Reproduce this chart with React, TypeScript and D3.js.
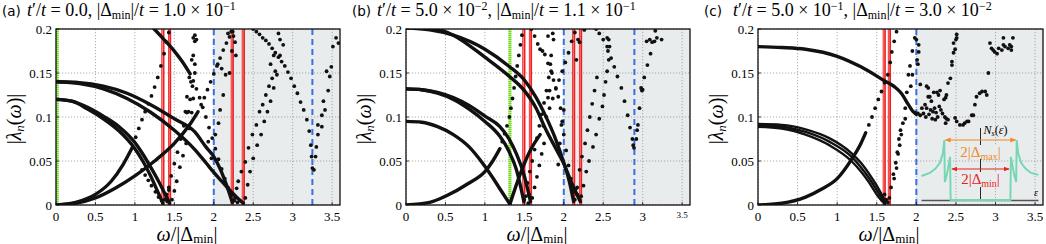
import React from "react";
import * as d3 from "d3";

type Pt = [number, number];

const FONT = "'Liberation Serif', 'DejaVu Serif', serif";

// axes
const xTicks = [0, 0.5, 1, 1.5, 2, 2.5, 3, 3.5];
const xTickLabels = ["0", "0.5", "1", "1.5", "2", "2.5", "3", "3.5"];
const yTicks = [0, 0.05, 0.1, 0.15, 0.2];
const yTickLabels = ["0", "0.05", "0.1", "0.15", "0.2"];

// ---------- panel (a) ----------
const aHi1: Pt[] = [[0, 0.14], [0.3, 0.139], [0.6, 0.135], [0.9, 0.127], [1.2, 0.114], [1.5, 0.098], [1.76, 0.083], [1.9, 0.066], [2.0, 0.055], [2.1, 0.037], [2.18, 0.018], [2.235, 0.003]];
const aHi2: Pt[] = [[0, 0.14], [0.3, 0.138], [0.6, 0.132], [0.9, 0.121], [1.19, 0.106], [1.5, 0.085], [1.76, 0.063], [1.9, 0.048], [2.0, 0.037], [2.1, 0.027], [2.2, 0.017], [2.3, 0.008], [2.375, 0.002]];
const aLo1: Pt[] = [[0, 0.12], [0.2, 0.118], [0.4, 0.109], [0.6, 0.098], [0.8, 0.084], [1.0, 0.064], [1.1, 0.05], [1.2, 0.033], [1.3, 0.013], [1.355, 0.002]];
const aLo2: Pt[] = [[0, 0.12], [0.2, 0.118], [0.4, 0.111], [0.6, 0.101], [0.8, 0.089], [1.0, 0.071], [1.1, 0.058], [1.2, 0.043], [1.3, 0.027], [1.39, 0.011], [1.44, 0.002]];
const aRiseA: Pt[] = [[0, 0], [0.25, 0.002], [0.5, 0.008], [0.75, 0.019], [1.0, 0.033], [1.25, 0.05], [1.5, 0.07], [1.7, 0.092], [1.8, 0.106]];
const aRiseB: Pt[] = [[0, 0], [0.25, 0.003], [0.5, 0.012], [0.7, 0.027], [0.85, 0.046], [0.97, 0.066]];
const aTopA: Pt[] = [[1.235, 0.201], [1.35, 0.19], [1.49, 0.176], [1.6, 0.163], [1.7, 0.149]];

const aRiseADots: Pt[] = [[1.84, 0.114], [1.88, 0.122], [1.92, 0.131], [1.96, 0.14], [2.0, 0.149], [2.04, 0.158], [2.08, 0.167], [2.12, 0.176], [2.16, 0.184], [2.2, 0.191], [2.24, 0.197]];
const aRiseBDots: Pt[] = [[1.01, 0.077], [1.05, 0.087], [1.09, 0.097], [1.13, 0.106], [1.17, 0.115], [1.21, 0.124], [1.25, 0.134], [1.29, 0.145], [1.33, 0.158], [1.37, 0.172], [1.4, 0.185], [1.43, 0.196]];
const aTopADots: Pt[] = [[1.74, 0.141], [1.78, 0.132], [1.82, 0.122], [1.86, 0.111], [1.9, 0.1], [1.94, 0.088], [1.98, 0.076], [2.02, 0.064], [2.06, 0.052], [2.1, 0.041], [2.14, 0.03], [2.18, 0.02], [2.22, 0.011], [2.26, 0.005], [2.3, 0.003]];
const aDescDots: Pt[] = [[1.09, 0.04], [1.13, 0.034], [1.17, 0.028], [1.21, 0.022], [1.26, 0.015], [1.3, 0.009], [1.34, 0.005], [1.38, 0.006], [1.4, 0.012], [1.41, 0.004], [1.43, 0.017]];
const aArm1: Pt[] = [[1.4, 0.008], [1.43, 0.02], [1.46, 0.033], [1.5, 0.047], [1.54, 0.06], [1.58, 0.075], [1.62, 0.09], [1.66, 0.105], [1.7, 0.12], [1.73, 0.135], [1.76, 0.15]];
const aArm2: Pt[] = [[1.47, 0.006], [1.5, 0.016], [1.53, 0.027], [1.57, 0.043], [1.61, 0.056], [1.65, 0.07], [1.69, 0.087], [1.72, 0.105], [1.74, 0.121]];
const aArmTop: Pt[] = [[1.74, 0.19], [1.76, 0.186], [1.74, 0.17], [1.76, 0.16], [1.72, 0.165], [1.69, 0.145], [1.71, 0.14], [1.66, 0.123], [1.64, 0.106], [1.68, 0.106]];
const aArm3: Pt[] = [[2.4, 0.008], [2.43, 0.023], [2.46, 0.038], [2.5, 0.053], [2.55, 0.068], [2.6, 0.08], [2.64, 0.095], [2.68, 0.106], [2.72, 0.118], [2.76, 0.133], [2.8, 0.148], [2.84, 0.17], [2.88, 0.182]];
const aArm4: Pt[] = [[2.27, 0.008], [2.29, 0.019], [2.31, 0.027], [2.35, 0.038], [2.4, 0.049], [2.44, 0.065], [2.49, 0.08], [2.54, 0.091], [2.58, 0.106], [2.62, 0.114], [2.66, 0.125], [2.7, 0.135], [2.74, 0.144], [2.78, 0.152]];
const aTopBDots: Pt[] = [[2.5, 0.2], [2.54, 0.197], [2.58, 0.194], [2.62, 0.19], [2.66, 0.187], [2.7, 0.183], [2.74, 0.178], [2.78, 0.173], [2.82, 0.168], [2.86, 0.163], [2.9, 0.158], [2.94, 0.151], [2.98, 0.144], [3.02, 0.135], [3.06, 0.127], [3.1, 0.117], [3.14, 0.108], [3.18, 0.097], [3.21, 0.084], [3.23, 0.068], [3.24, 0.055], [3.25, 0.042], [3.27, 0.04]];
const aArm5: Pt[] = [[3.29, 0.055], [3.3, 0.066], [3.32, 0.08], [3.37, 0.089], [3.41, 0.108], [3.45, 0.13], [3.49, 0.157], [3.51, 0.18], [3.55, 0.19], [3.58, 0.184], [3.32, 0.091], [3.37, 0.102], [3.39, 0.118], [3.43, 0.152], [3.47, 0.146]];
const aScatter: Pt[] = [[2.82, 0.195], [2.84, 0.188], [2.76, 0.17], [2.72, 0.16], [2.18, 0.195], [2.22, 0.197], [2.25, 0.192], [2.27, 0.185], [2.23, 0.175], [2.28, 0.17], [2.2, 0.15], [2.15, 0.148], [2.1, 0.155], [2.05, 0.16], [2.12, 0.125], [2.08, 0.108], [2.06, 0.093], [2.02, 0.08], [1.93, 0.072], [1.97, 0.053], [1.76, 0.193], [1.78, 0.188]];

// ---------- panel (b) ----------
const bTop1: Pt[] = [[0, 0.201], [0.3, 0.199], [0.6, 0.193], [1.0, 0.177], [1.3, 0.158], [1.5, 0.142], [1.65, 0.122], [1.76, 0.103], [1.9, 0.074], [2.0, 0.048], [2.07, 0.027], [2.125, 0.004]];
const bTop2: Pt[] = [[0.3, 0.203], [0.6, 0.193], [1.0, 0.168], [1.3, 0.147], [1.5, 0.13], [1.65, 0.11], [1.76, 0.088], [1.9, 0.064], [2.0, 0.047], [2.1, 0.025], [2.21, 0.004]];
const bMid1: Pt[] = [[0, 0.132], [0.2, 0.131], [0.4, 0.127], [0.6, 0.12], [0.8, 0.109], [1.0, 0.095], [1.19, 0.078], [1.3, 0.062], [1.4, 0.04], [1.494, 0.004]];
const bMid2: Pt[] = [[0, 0.132], [0.2, 0.131], [0.4, 0.128], [0.6, 0.122], [0.8, 0.113], [1.0, 0.101], [1.19, 0.089], [1.3, 0.076], [1.4, 0.058], [1.5, 0.033], [1.578, 0.004]];
const bLow: Pt[] = [[0, 0.095], [0.2, 0.094], [0.4, 0.089], [0.6, 0.08], [0.8, 0.066], [0.95, 0.05], [1.1, 0.031], [1.2, 0.017], [1.317, 0.001]];
const bLowArm: Pt[] = [[1.317, 0.001], [1.443, 0.034], [1.57, 0.061], [1.7, 0.08]];
const bRise: Pt[] = [[0, 0], [0.3, 0.003], [0.5, 0.01], [0.8, 0.025], [1.0, 0.038], [1.1, 0.05], [1.19, 0.064]];

const bLowArmDots: Pt[] = [[1.74, 0.09], [1.78, 0.1], [1.82, 0.11], [1.86, 0.121], [1.9, 0.132], [1.94, 0.142], [1.98, 0.152], [2.02, 0.162], [2.06, 0.173], [2.1, 0.186], [2.14, 0.196]];
const bRiseDots: Pt[] = [[1.22, 0.072], [1.25, 0.081], [1.28, 0.09], [1.31, 0.1], [1.33, 0.11], [1.35, 0.121], [1.37, 0.133], [1.39, 0.146], [1.41, 0.158], [1.43, 0.17], [1.45, 0.182], [1.47, 0.193]];
const bTopCDots: Pt[] = [[1.59, 0.2], [1.63, 0.192], [1.67, 0.183], [1.7, 0.177], [1.73, 0.175], [1.76, 0.171], [1.8, 0.161], [1.84, 0.152], [1.87, 0.142], [1.9, 0.133], [1.93, 0.123], [1.96, 0.11], [1.98, 0.095], [2.0, 0.08], [2.03, 0.062], [2.06, 0.045], [2.09, 0.03], [2.12, 0.015]];
const bArm1: Pt[] = [[1.52, 0.01], [1.54, 0.025], [1.57, 0.038], [1.6, 0.05], [1.63, 0.063], [1.66, 0.076], [1.69, 0.09], [1.72, 0.103], [1.75, 0.116], [1.78, 0.13], [1.81, 0.145], [1.83, 0.16]];
const bArm2: Pt[] = [[1.6, 0.008], [1.63, 0.02], [1.66, 0.032], [1.69, 0.045], [1.72, 0.058], [1.75, 0.07], [1.5, 0.006], [1.55, 0.002], [1.56, 0.012]];
const bArmTop: Pt[] = [[1.86, 0.195], [1.87, 0.188], [1.84, 0.17], [1.85, 0.15], [1.82, 0.13], [1.8, 0.122], [1.8, 0.192], [1.93, 0.046], [1.95, 0.07], [1.97, 0.091], [2.0, 0.108]];
const bArm3: Pt[] = [[2.22, 0.01], [2.25, 0.022], [2.285, 0.038], [2.32, 0.05], [2.37, 0.066], [2.41, 0.08], [2.45, 0.098], [2.49, 0.112], [2.51, 0.125], [2.53, 0.14], [2.55, 0.152], [2.57, 0.165]];
const bArm4: Pt[] = [[2.17, 0.02], [2.2, 0.04], [2.23, 0.055], [2.27, 0.07], [2.3, 0.085], [2.33, 0.1], [2.36, 0.115], [2.39, 0.13], [2.42, 0.145], [2.15, 0.018], [2.17, 0.012], [2.14, 0.006]];
const bTopDDots: Pt[] = [[2.41, 0.2], [2.45, 0.195], [2.5, 0.188], [2.55, 0.18], [2.6, 0.167], [2.64, 0.157], [2.68, 0.146], [2.73, 0.133], [2.77, 0.118], [2.81, 0.102], [2.84, 0.088], [2.87, 0.075], [2.88, 0.068], [2.89, 0.065]];
const bArm5: Pt[] = [[2.92, 0.075], [2.93, 0.085], [2.94, 0.091], [2.96, 0.11], [2.98, 0.133], [3.0, 0.131], [2.99, 0.13], [3.02, 0.145], [3.06, 0.159], [3.1, 0.172], [3.15, 0.186], [3.12, 0.185], [3.16, 0.198], [3.05, 0.186], [3.09, 0.188], [3.24, 0.188], [3.18, 0.19]];
const bScatter: Pt[] = [[2.55, 0.19], [2.57, 0.188], [2.58, 0.18], [2.56, 0.175], [2.18, 0.188], [2.2, 0.185], [2.16, 0.165], [2.26, 0.199]];

// ---------- panel (c) ----------
const cTop: Pt[] = [[0, 0.18], [0.3, 0.179], [0.6, 0.177], [1.0, 0.169], [1.3, 0.157], [1.6, 0.141], [1.73, 0.134], [1.81, 0.127], [1.9, 0.114], [1.96, 0.106], [2.0, 0.103]];
const cArc1: Pt[] = [[0, 0.092], [0.3, 0.091], [0.6, 0.086], [0.9, 0.076], [1.18, 0.059], [1.3, 0.048], [1.4, 0.036], [1.5, 0.022], [1.58, 0.009], [1.61, 0.004]];
const cArc2: Pt[] = [[0, 0.09], [0.3, 0.089], [0.6, 0.083], [0.9, 0.072], [1.18, 0.055], [1.3, 0.043], [1.4, 0.031], [1.5, 0.017], [1.59, 0.004]];
const cArc3: Pt[] = [[0, 0.089], [0.3, 0.087], [0.6, 0.08], [0.9, 0.068], [1.18, 0.05], [1.3, 0.038], [1.4, 0.026], [1.5, 0.012], [1.57, 0.004]];
const cRise: Pt[] = [[0, 0], [0.3, 0.002], [0.6, 0.009], [0.8, 0.018], [1.0, 0.03], [1.19, 0.053], [1.3, 0.07], [1.36, 0.082]];

const cRiseDots: Pt[] = [[1.4, 0.091], [1.44, 0.1], [1.48, 0.11], [1.52, 0.12], [1.56, 0.129], [1.6, 0.139], [1.64, 0.148], [1.67, 0.162], [1.69, 0.174], [1.72, 0.186], [1.75, 0.197]];
const cArmDots: Pt[] = [[1.6, 0.002], [1.62, 0.006], [1.64, 0.003], [1.66, 0.008], [1.6, 0.012], [1.68, 0.02], [1.71, 0.035], [1.74, 0.048], [1.77, 0.058], [1.79, 0.068], [1.81, 0.08], [1.83, 0.093], [1.86, 0.11], [1.88, 0.128], [1.9, 0.148], [1.92, 0.158], [1.95, 0.175], [1.98, 0.19], [1.72, 0.03], [1.75, 0.042], [1.76, 0.06], [1.78, 0.075], [1.8, 0.085], [1.86, 0.098], [2.0, 0.188], [2.03, 0.182], [2.03, 0.174]];
const cScatter: Pt[] = [[2.0, 0.104], [1.98, 0.105], [2.02, 0.104], [2.05, 0.102], [2.07, 0.11], [2.09, 0.104], [2.11, 0.114], [2.13, 0.11], [2.05, 0.137], [2.13, 0.135], [2.15, 0.133], [2.15, 0.123], [2.17, 0.123], [2.19, 0.118], [2.12, 0.1], [2.16, 0.103], [2.18, 0.108], [2.21, 0.106], [2.23, 0.11], [2.25, 0.105], [2.27, 0.1], [2.29, 0.112], [2.31, 0.108], [2.2, 0.098], [2.24, 0.097], [2.33, 0.104], [2.35, 0.12], [2.37, 0.122], [2.38, 0.125], [2.36, 0.1], [2.38, 0.098], [2.4, 0.097], [2.37, 0.093], [2.4, 0.1385], [2.43, 0.144], [2.45, 0.159], [2.45, 0.163], [2.47, 0.173], [2.49, 0.177], [2.47, 0.184], [2.5, 0.188], [2.51, 0.19], [2.51, 0.194], [2.49, 0.099], [2.51, 0.095], [2.55, 0.091], [2.59, 0.091], [2.61, 0.093], [2.64, 0.095], [2.66, 0.095], [2.7, 0.102], [2.72, 0.102], [2.74, 0.114], [2.76, 0.123], [2.8, 0.127], [2.83, 0.129], [2.87, 0.129], [2.89, 0.125], [2.91, 0.15], [2.95, 0.178], [2.97, 0.176], [2.99, 0.174], [3.04, 0.178], [3.08, 0.176], [3.1, 0.182], [3.12, 0.18], [3.16, 0.178], [3.18, 0.182], [3.2, 0.18], [3.22, 0.19], [3.1, 0.19], [3.2, 0.176], [2.93, 0.184], [3.02, 0.172], [2.28, 0.125], [2.3, 0.13], [2.26, 0.128], [2.22, 0.128], [2.02, 0.16], [2.01, 0.165], [1.95, 0.148], [1.93, 0.135]];

// inset: schematic density of states N_s(eps), eps in units of |Delta_max|
const dosEps = [-1.63, -1.4, -1.25, -1.12, -1.04, -1.0, -0.985, -0.93, -0.84, -0.825, 0.825, 0.84, 0.93, 0.985, 1.0, 1.04, 1.12, 1.25, 1.4, 1.6];
const dosVal = [0.4, 0.45, 0.52, 0.62, 0.78, 1.0, 0.3, 0.42, 0.72, 0, 0, 0.72, 0.42, 0.3, 1.0, 0.78, 0.62, 0.52, 0.45, 0.42];
const gapMax = 1.0;
const gapMin = 0.815;

interface PanelProps {
  id: string;
  left: number;
  right: number;
  tag: string;
  tagX: number;
  titleX: number;
  tp: string;
  tpExp?: string;
  dm: string;
  dmExp: string;
  lines: Pt[][];
  thinLines?: Pt[][];
  dots: Pt[][];
  greens: number[];
  reds: number[];
  blues: number[];
  smallLast?: boolean;
  children?: React.ReactNode;
}

const TOP = 29;
const BOTTOM = 205;

function Panel(p: PanelProps) {
  const x = d3.scaleLinear().domain([0, 3.6]).range([p.left, p.right]);
  const y = d3.scaleLinear().domain([0, 0.2]).range([BOTTOM, TOP]);
  const line = d3
    .line<Pt>()
    .x((d) => x(d[0]))
    .y((d) => y(d[1]))
    .curve(d3.curveMonotoneX);
  const clip = `clip-${p.id}`;
  return (
    <g>
      <defs>
        <clipPath id={clip}>
          <rect x={p.left} y={TOP} width={p.right - p.left} height={BOTTOM - TOP} />
        </clipPath>
      </defs>
      {/* shaded region */}
      <rect x={x(2)} y={TOP} width={p.right - x(2)} height={BOTTOM - TOP} fill="#e8ecec" />
      {/* grid */}
      {xTicks.map((t) => (
        <line key={"gx" + t} x1={x(t)} x2={x(t)} y1={TOP} y2={BOTTOM} stroke="#9a9a9a" strokeWidth={0.8} strokeDasharray="1.2 1.8" />
      ))}
      {yTicks.map((t) => (
        <line key={"gy" + t} x1={p.left} x2={p.right} y1={y(t)} y2={y(t)} stroke="#9a9a9a" strokeWidth={0.8} strokeDasharray="1.2 1.8" />
      ))}
      <g clipPath={`url(#${clip})`}>
        {p.greens.map((g) => (
          <g key={"g" + g}>
            <line x1={x(g) + (g === 0 ? 1.2 : 0)} x2={x(g) + (g === 0 ? 1.2 : 0)} y1={TOP} y2={BOTTOM} stroke="#b6f08a" strokeWidth={3} />
            <line x1={x(g) + (g === 0 ? 1.2 : 0)} x2={x(g) + (g === 0 ? 1.2 : 0)} y1={TOP} y2={BOTTOM} stroke="#6fd61e" strokeWidth={3} strokeDasharray="1 1" />
          </g>
        ))}
        {p.blues.map((b) => (
          <line key={"b" + b} x1={x(b)} x2={x(b)} y1={TOP} y2={BOTTOM} stroke="#3b6fe6" strokeWidth={2} strokeDasharray="6 4" />
        ))}
        {p.reds.map((r) => (
          <g key={"r" + r}>
            <line x1={x(r)} x2={x(r)} y1={TOP} y2={BOTTOM} stroke="#ee1f1f" strokeWidth={3.2} />
            <line x1={x(r) - 0.4} x2={x(r) - 0.4} y1={TOP} y2={BOTTOM} stroke="#ff9c9c" strokeWidth={0.8} />
          </g>
        ))}
        {p.lines.map((l, i) => (
          <path key={"l" + i} d={line(l) || ""} fill="none" stroke="#111" strokeWidth={3.4} strokeLinecap="round" />
        ))}
        {(p.thinLines || []).map((l, i) => (
          <path key={"t" + i} d={line(l) || ""} fill="none" stroke="#111" strokeWidth={2.4} strokeLinecap="round" />
        ))}
        {p.dots.map((set, i) =>
          set.map((d, j) => <circle key={`d${i}-${j}`} cx={x(d[0])} cy={y(d[1])} r={1.9} fill="#111" />)
        )}
      </g>
      {p.children}
      {/* frame */}
      <rect x={p.left} y={TOP} width={p.right - p.left} height={BOTTOM - TOP} fill="none" stroke="#111" strokeWidth={1.3} />
      {xTicks.map((t) => (
        <line key={"tx" + t} x1={x(t)} x2={x(t)} y1={BOTTOM} y2={BOTTOM - 3} stroke="#111" strokeWidth={0.8} />
      ))}
      {yTicks.map((t) => (
        <line key={"ty" + t} x1={p.left} x2={p.left + 3} y1={y(t)} y2={y(t)} stroke="#111" strokeWidth={0.8} />
      ))}
      {/* tick labels */}
      {xTicks.map((t, i) => {
        const small = p.smallLast && i === xTicks.length - 1;
        return (
          <text key={"lx" + t} x={x(t)} y={small ? 218 : 221} textAnchor="middle" fontFamily={FONT} fontSize={small ? 9 : 13}>
            {xTickLabels[i]}
          </text>
        );
      })}
      {yTicks.map((t, i) => (
        <text key={"ly" + t} x={p.left - 4} y={y(t) + 4.5} textAnchor="end" fontFamily={FONT} fontSize={13}>
          {yTickLabels[i]}
        </text>
      ))}
      {/* axis labels */}
      <text transform={`translate(${p.left - 35},${(TOP + BOTTOM) / 2 + 2}) rotate(-90)`} textAnchor="middle" fontFamily={FONT} fontSize={20}>
        |<tspan fontStyle="italic">λ</tspan>
        <tspan fontStyle="italic" fontSize={13} dy={3}>n</tspan>
        <tspan dy={-3}>(</tspan>
        <tspan fontStyle="italic">ω</tspan>)|
      </text>
      <text x={p.left + 131} y={240.5} textAnchor="middle" fontFamily={FONT} fontSize={20}>
        <tspan fontStyle="italic">ω</tspan>/|Δ
        <tspan fontSize={13} dy={2}>min</tspan>
        <tspan dy={-2}>|</tspan>
      </text>
      {/* title */}
      <text x={p.tagX} y={16} fontFamily="'DejaVu Sans', sans-serif" fontSize={13.5}>
        {p.tag}
      </text>
      <text x={p.titleX} y={16} fontFamily={FONT} fontSize={18}>
        <tspan fontStyle="italic">t</tspan>
        <tspan>′/</tspan>
        <tspan fontStyle="italic">t</tspan>
        <tspan> = {p.tp}</tspan>
        {p.tpExp ? <tspan fontSize={12} dy={-6}>{p.tpExp}</tspan> : null}
        <tspan dy={p.tpExp ? 6 : 0}>, |Δ</tspan>
        <tspan fontSize={12} dy={3}>min</tspan>
        <tspan dy={-3}>|/</tspan>
        <tspan fontStyle="italic">t</tspan>
        <tspan> = {p.dm}</tspan>
        <tspan fontSize={12} dy={-6}>{p.dmExp}</tspan>
      </text>
    </g>
  );
}

function Inset() {
  const ex = d3.scaleLinear().domain([-gapMax, gapMax]).range([944.3, 1016.7]);
  const ny = d3.scaleLinear().domain([0, 1]).range([200, 140]);
  const pts: Pt[] = dosEps.map((e, i) => [e, dosVal[i]]);
  const path = d3
    .line<Pt>()
    .x((d) => ex(d[0]))
    .y((d) => ny(d[1]))(pts);
  const x0 = ex(0);
  return (
    <g>
      <defs>
        <marker id="arrO" viewBox="0 0 10 10" refX={9} refY={5} markerWidth={5} markerHeight={5} orient="auto-start-reverse">
          <path d="M0,1 L10,5 L0,9 z" fill="#f0892a" />
        </marker>
        <marker id="arrR" viewBox="0 0 10 10" refX={9} refY={5} markerWidth={5} markerHeight={5} orient="auto-start-reverse">
          <path d="M0,1 L10,5 L0,9 z" fill="#e8231c" />
        </marker>
      </defs>
      <line x1={ex(-1.63)} x2={ex(1.6)} y1={ny(0) + 0.5} y2={ny(0) + 0.5} stroke="#555" strokeWidth={1.6} />
      <line x1={x0} x2={x0} y1={ny(0)} y2={128} stroke="#111" strokeWidth={0.9} />
      <path d={path || ""} fill="none" stroke="#74d6b3" strokeWidth={1.9} />
      <line x1={ex(-gapMax) + 1} x2={ex(gapMax) - 1} y1={ny(1)} y2={ny(1)} stroke="#f0892a" strokeWidth={1.2} markerStart="url(#arrO)" markerEnd="url(#arrO)" />
      <line x1={ex(-gapMin) + 1} x2={ex(gapMin) - 1} y1={169} y2={169} stroke="#e8231c" strokeWidth={1.2} markerStart="url(#arrR)" markerEnd="url(#arrR)" />
      <rect x={x0 - 21} y={145} width={42} height={14} fill="#e8ecec" />
      <rect x={x0 - 21} y={172} width={42} height={15} fill="#e8ecec" />
      <text x={x0} y={157} textAnchor="middle" fontFamily={FONT} fontSize={15} fill="#f0892a">
        2|Δ<tspan fontSize={10} dy={3}>max</tspan>
        <tspan dy={-3}>|</tspan>
      </text>
      <text x={x0} y={184} textAnchor="middle" fontFamily={FONT} fontSize={15} fill="#e8231c">
        2|Δ<tspan fontSize={10} dy={3}>min</tspan>
        <tspan dy={-3}>|</tspan>
      </text>
      <text x={x0 + 3} y={134} fontFamily={FONT} fontSize={12}>
        <tspan fontStyle="italic">N</tspan>
        <tspan fontStyle="italic" fontSize={8} dy={2}>s</tspan>
        <tspan dy={-2}>(</tspan>
        <tspan fontStyle="italic">ε</tspan>)
      </text>
      <text x={1034} y={196} fontFamily={FONT} fontSize={10} fontStyle="italic">
        ε
      </text>
    </g>
  );
}

export default function App() {
  return (
    <div style={{ position: "absolute", left: 0, top: 0 }}>
      <svg width={1046} height={244} viewBox="0 0 1046 244" style={{ display: "block", background: "#fff" }}>
        <Panel
          id="a" left={56} right={340} tag="(a)" tagX={2} titleX={27}
          tp="0.0" dm="1.0 × 10" dmExp="−1"
          lines={[aHi1, aHi2, aLo1, aLo2, aRiseA, aRiseB, aTopA]}
          dots={[aRiseADots, aRiseBDots, aTopADots, aDescDots, aArm1, aArm2, aArmTop, aArm3, aArm4, aTopBDots, aArm5, aScatter]}
          greens={[0]} reds={[1.355, 1.44, 2.235, 2.375]} blues={[2, 3.25]}
        />
        <Panel
          id="b" left={406} right={690} tag="(b)" tagX={352} titleX={377}
          tp="5.0 × 10" tpExp="−2" dm="1.1 × 10" dmExp="−1"
          lines={[bTop1, bTop2, bMid1, bMid2, bLow, bLowArm, bRise]}
          dots={[bLowArmDots, bRiseDots, bTopCDots, bArm1, bArm2, bArmTop, bArm3, bArm4, bTopDDots, bArm5, bScatter]}
          greens={[1.317]} reds={[1.494, 1.578, 2.125, 2.213]} blues={[2, 2.895]} smallLast
        />
        <Panel
          id="c" left={758} right={1043} tag="(c)" tagX={704} titleX={733}
          tp="5.0 × 10" tpExp="−1" dm="3.0 × 10" dmExp="−2"
          lines={[cTop, cRise]}
          thinLines={[cArc1, cArc2, cArc3]}
          dots={[cRiseDots, cArmDots, cScatter]}
          greens={[]} reds={[1.595, 1.66]} blues={[2]}
        >
          <Inset />
        </Panel>
      </svg>
    </div>
  );
}
